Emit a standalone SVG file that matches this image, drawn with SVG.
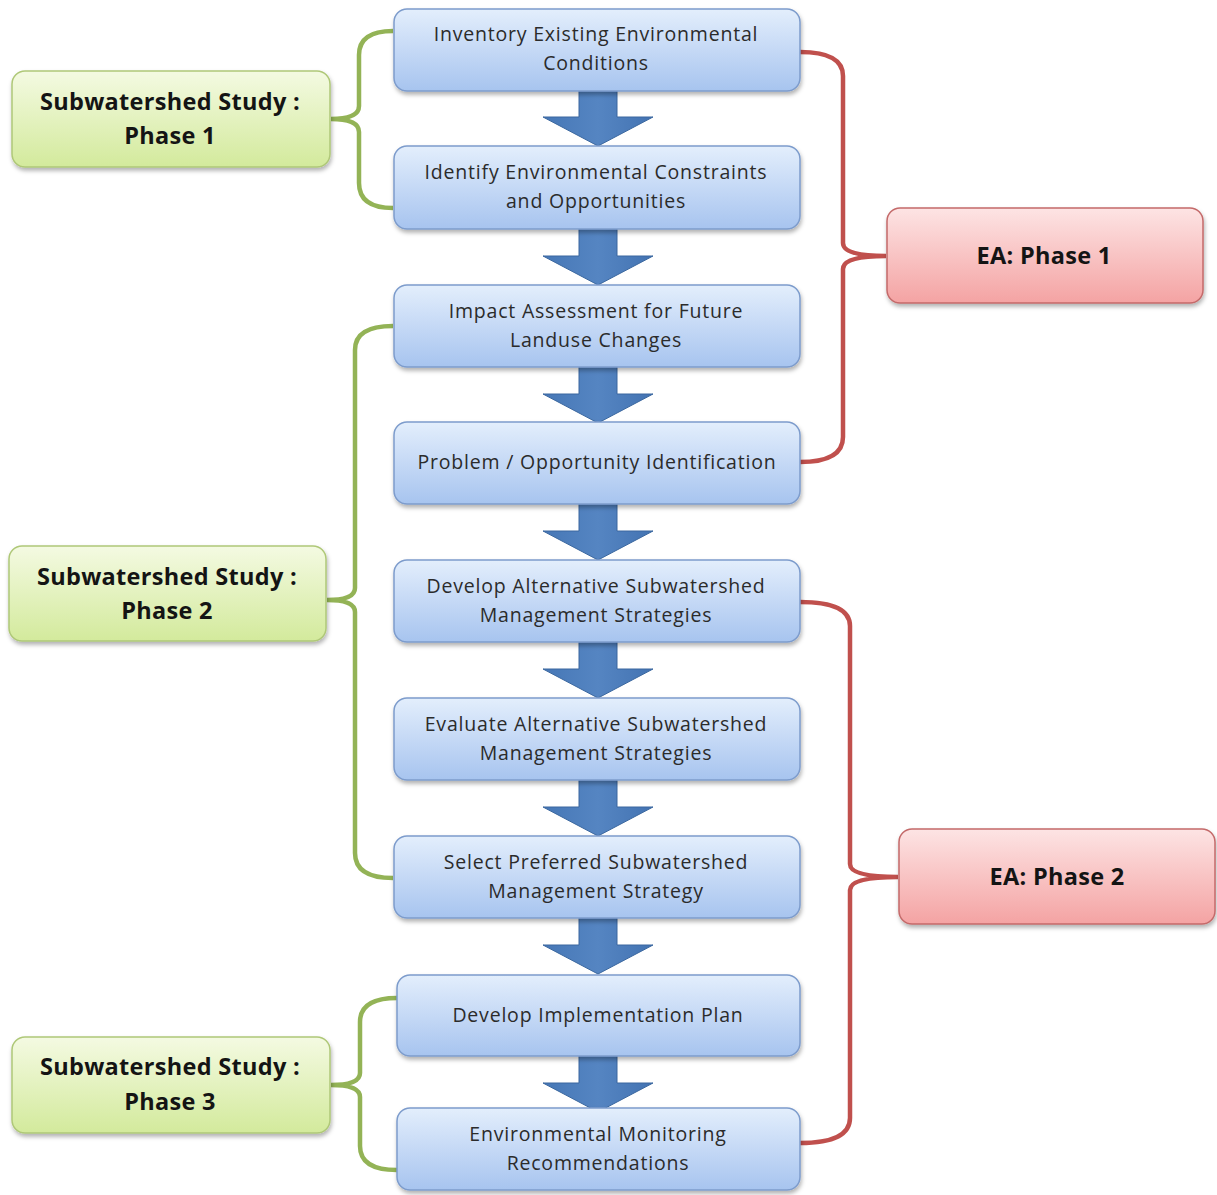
<svg xmlns="http://www.w3.org/2000/svg" width="1217" height="1195" viewBox="0 0 1217 1195">
<defs>
<linearGradient id="gb" x1="0" y1="0" x2="0" y2="1"><stop offset="0" stop-color="#e3eefc"/><stop offset="1" stop-color="#a7c4ef"/></linearGradient>
<linearGradient id="gg" x1="0" y1="0" x2="0" y2="1"><stop offset="0" stop-color="#f4fae2"/><stop offset="1" stop-color="#d3ea9c"/></linearGradient>
<linearGradient id="gr" x1="0" y1="0" x2="0" y2="1"><stop offset="0" stop-color="#fde4e4"/><stop offset="1" stop-color="#f4a3a3"/></linearGradient>
<linearGradient id="ga" x1="0" y1="0" x2="1" y2="0"><stop offset="0" stop-color="#4677b6"/><stop offset="0.5" stop-color="#5585c2"/><stop offset="1" stop-color="#4373b2"/></linearGradient>
<filter id="sh" x="-5%" y="-10%" width="112%" height="130%"><feDropShadow dx="1" dy="3" stdDeviation="2" flood-color="#000" flood-opacity="0.3"/></filter>
<path id="arr" d="M-19,0 L19,0 L19,28 L55,28 L0,57 L-55,28 L-19,28 Z"/>
</defs>
<style>
.b{fill:url(#gb);stroke:#7d9ccc;stroke-width:1.5;filter:url(#sh)}
.g{fill:url(#gg);stroke:#afc878;stroke-width:1.5;filter:url(#sh)}
.r{fill:url(#gr);stroke:#c46a6a;stroke-width:1.5;filter:url(#sh)}
.t{font-family:"Open Sans","Liberation Sans",sans-serif;font-size:19.5px;letter-spacing:0.8px;fill:#2b2b2b;text-anchor:middle}
.tb{font-family:"Open Sans","Liberation Sans",sans-serif;font-size:23.5px;letter-spacing:0.3px;font-weight:bold;fill:#141414;text-anchor:middle}
.gl{fill:none;stroke:#93b356;stroke-width:4.5}
.rl{fill:none;stroke:#c0504d;stroke-width:4.5}
.a{fill:url(#ga);stroke:#3a679f;stroke-width:1}
</style>
<rect width="1217" height="1195" fill="#ffffff"/>
<g id="connectors">
<path class="gl" d="M393,31 Q359,31 359,55 L359,106 Q359,119 331,119 Q359,119 359,132 L359,183 Q359,208 393,208"/>
<path class="gl" d="M393,326 Q355,326 355,350 L355,588 Q355,600 327,600 Q355,600 355,612 L355,853 Q355,878 393,878"/>
<path class="gl" d="M397,998 Q360,998 360,1022 L360,1073 Q360,1085 331,1085 Q360,1085 360,1097 L360,1146 Q360,1170 397,1170"/>
<path class="rl" d="M800,52 Q843,52 843,76 L843,243 Q843,256 886,256 Q843,256 843,269 L843,437 Q843,462 800,462"/>
<path class="rl" d="M800,602 Q850,602 850,626 L850,864 Q850,877 898,877 Q850,877 850,890 L850,1118 Q850,1143 800,1143"/>
<use href="#arr" class="a" x="598" y="89"/>
<use href="#arr" class="a" x="598" y="228"/>
<use href="#arr" class="a" x="598" y="366"/>
<use href="#arr" class="a" x="598" y="503"/>
<use href="#arr" class="a" x="598" y="641"/>
<use href="#arr" class="a" x="598" y="779"/>
<use href="#arr" class="a" x="598" y="917"/>
<use href="#arr" class="a" x="598" y="1055"/>
</g>
<g id="n1"><rect class="b" x="394" y="9" width="406" height="82" rx="13"/><text class="t" x="596" y="41">Inventory Existing Environmental</text><text class="t" x="596" y="70">Conditions</text></g>
<g id="n2"><rect class="b" x="394" y="146" width="406" height="83" rx="13"/><text class="t" x="596" y="179">Identify Environmental Constraints</text><text class="t" x="596" y="208">and Opportunities</text></g>
<g id="n3"><rect class="b" x="394" y="285" width="406" height="82" rx="13"/><text class="t" x="596" y="318">Impact Assessment for Future</text><text class="t" x="596" y="347">Landuse Changes</text></g>
<g id="n4"><rect class="b" x="394" y="422" width="406" height="82" rx="13"/><text class="t" x="597" y="469">Problem / Opportunity Identification</text></g>
<g id="n5"><rect class="b" x="394" y="560" width="406" height="82" rx="13"/><text class="t" x="596" y="593">Develop Alternative Subwatershed</text><text class="t" x="596" y="622">Management Strategies</text></g>
<g id="n6"><rect class="b" x="394" y="698" width="406" height="82" rx="13"/><text class="t" x="596" y="731">Evaluate Alternative Subwatershed</text><text class="t" x="596" y="760">Management Strategies</text></g>
<g id="n7"><rect class="b" x="394" y="836" width="406" height="82" rx="13"/><text class="t" x="596" y="869">Select Preferred Subwatershed</text><text class="t" x="596" y="898">Management Strategy</text></g>
<g id="n8"><rect class="b" x="397" y="975" width="403" height="81" rx="13"/><text class="t" x="598" y="1022">Develop Implementation Plan</text></g>
<g id="n9"><rect class="b" x="397" y="1108" width="403" height="82" rx="13"/><text class="t" x="598" y="1141">Environmental Monitoring</text><text class="t" x="598" y="1170">Recommendations</text></g>
<g id="s1"><rect class="g" x="12" y="71" width="318" height="96" rx="13"/><text class="tb" x="170" y="110">Subwatershed Study :</text><text class="tb" x="170" y="144">Phase 1</text></g>
<g id="s2"><rect class="g" x="9" y="546" width="317" height="95" rx="13"/><text class="tb" x="167" y="585">Subwatershed Study :</text><text class="tb" x="167" y="619">Phase 2</text></g>
<g id="s3"><rect class="g" x="12" y="1037" width="318" height="96" rx="13"/><text class="tb" x="170" y="1075">Subwatershed Study :</text><text class="tb" x="170" y="1110">Phase 3</text></g>
<g id="e1"><rect class="r" x="887" y="208" width="316" height="95" rx="13"/><text class="tb" x="1044" y="264">EA: Phase 1</text></g>
<g id="e2"><rect class="r" x="899" y="829" width="316" height="95" rx="13"/><text class="tb" x="1057" y="885">EA: Phase 2</text></g>
</svg>
